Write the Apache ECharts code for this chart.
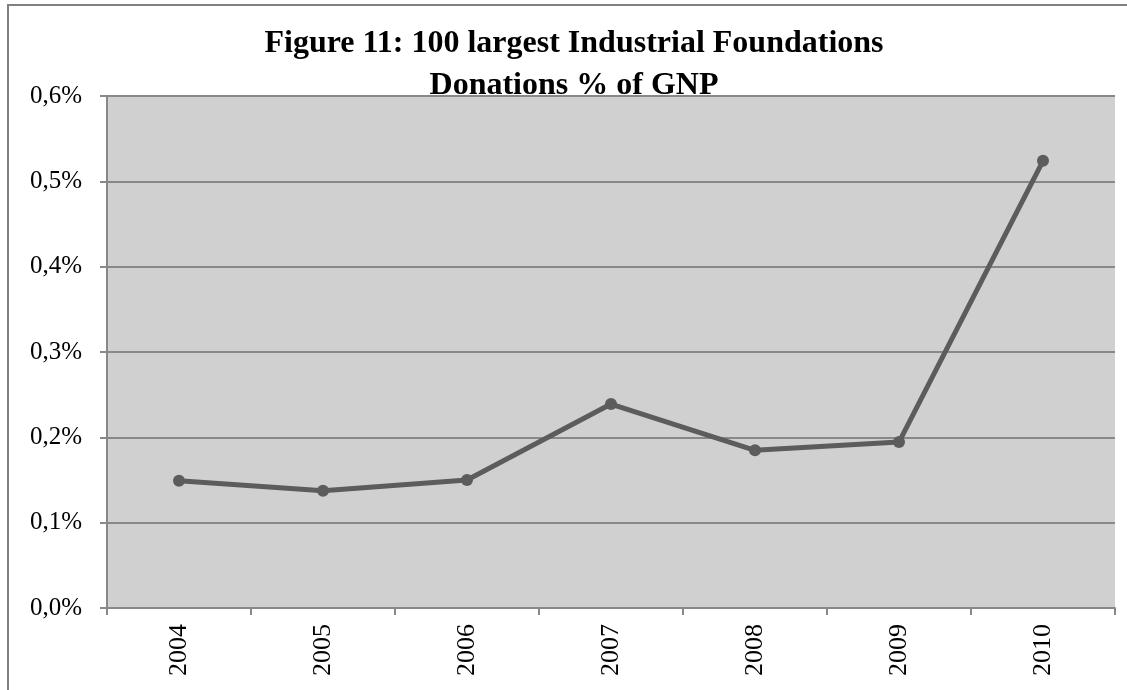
<!DOCTYPE html>
<html>
<head>
<meta charset="utf-8">
<script src="https://cdn.jsdelivr.net/npm/echarts@6/dist/echarts.min.js"></script>
<style>
  html, body { margin: 0; padding: 0; background: #fff; }
  #chart { width: 1127px; height: 690px; }
</style>
</head>
<body>
<div id="chart"></div>
<script>
// Donations by the 100 largest industrial foundations, share of GNP (%)
const years = ['2004', '2005', '2006', '2007', '2008', '2009', '2010'];
const donationsPct = [0.149, 0.1375, 0.150, 0.239, 0.1848, 0.1945, 0.524];
const yTicks = [0, 0.1, 0.2, 0.3, 0.4, 0.5, 0.6];
const titleLines = ['Figure 11: 100 largest Industrial Foundations', 'Donations % of GNP'];

const chart = echarts.init(document.getElementById('chart'));
chart.setOption({
  backgroundColor: '#ffffff',
  animation: false,
  graphic: [{
    type: 'rect',
    shape: { x: 8, y: 5, width: 1130, height: 700 },
    style: { fill: 'none', stroke: '#808080', lineWidth: 2 },
    silent: true,
    z: 100
  }, {
    type: 'text',
    x: 574,
    y: 23,
    style: {
      text: titleLines.join('\n'),
      align: 'center',
      verticalAlign: 'top',
      fontFamily: 'Liberation Serif',
      fontWeight: 'bold',
      fontSize: 32,
      lineHeight: 42,
      fill: '#000'
    },
    z: 101
  }],
  grid: {
    left: 107, right: 12, top: 96, bottom: 82,
    show: true,
    backgroundColor: '#d0d0d0',
    borderWidth: 0
  },
  xAxis: {
    type: 'category',
    data: years,
    boundaryGap: true,
    axisLine: { show: true, lineStyle: { color: '#888888', width: 2 } },
    axisTick: { show: true, length: 7, alignWithLabel: false, lineStyle: { color: '#888888', width: 2 } },
    axisLabel: {
      rotate: 90,
      margin: 16,
      fontFamily: 'Liberation Serif',
      fontSize: 26,
      color: '#000'
    },
    splitLine: { show: false }
  },
  yAxis: {
    type: 'value',
    min: 0,
    max: 0.6,
    interval: 0.1,
    axisLine: { show: true, lineStyle: { color: '#888888', width: 2 } },
    axisTick: { show: true, length: 7, lineStyle: { color: '#888888', width: 2 } },
    axisLabel: {
      margin: 25,
      fontFamily: 'Liberation Serif',
      fontSize: 25,
      color: '#000',
      formatter: function (v) {
        const t = yTicks.find(x => Math.abs(x - v) < 1e-9);
        return (t !== undefined ? t : v).toFixed(1).replace('.', ',') + '%';
      }
    },
    splitLine: { show: true, lineStyle: { color: '#888888', width: 2 } }
  },
  series: [{
    type: 'line',
    data: donationsPct,
    symbol: 'circle',
    symbolSize: 12,
    lineStyle: { color: '#5c5c5c', width: 5 },
    itemStyle: { color: '#5c5c5c' }
  }]
});
</script>
</body>
</html>
